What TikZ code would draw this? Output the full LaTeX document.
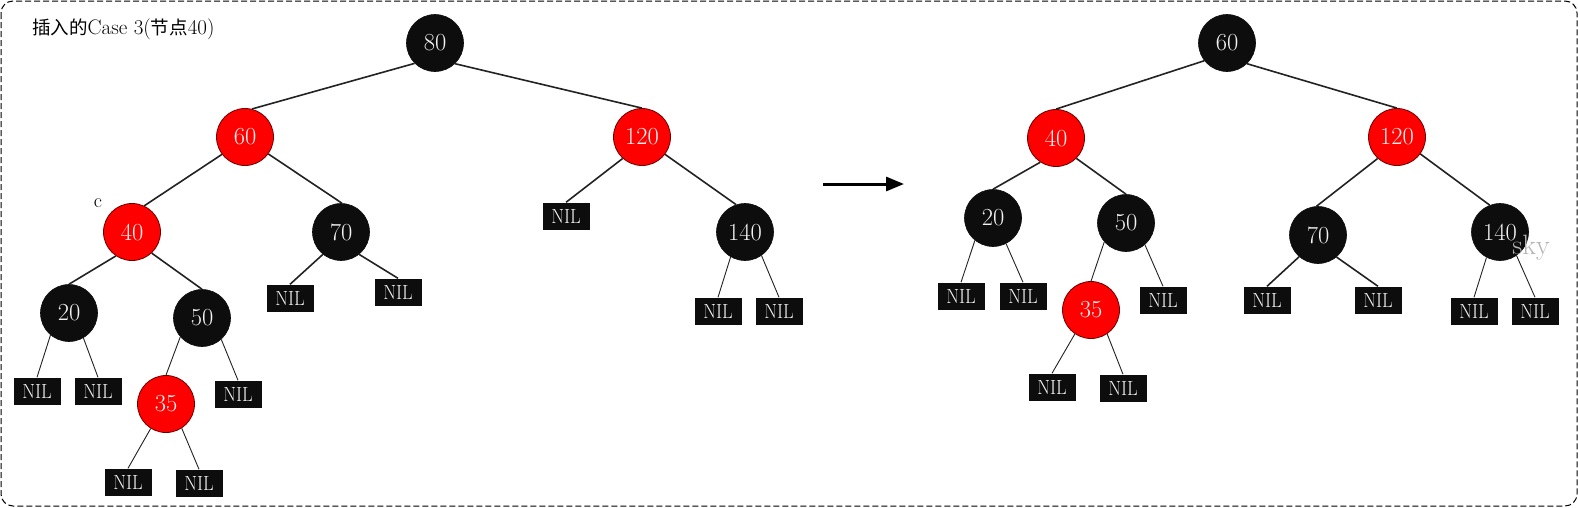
\documentclass[tikz,border=0pt]{standalone}
\usepackage{fontspec}
\usepackage{graphicx}
\newfontfamily\cjk{Noto Sans CJK SC}
\usetikzlibrary{arrows.meta}
\definecolor{nodeblack}{HTML}{0D0D0D}
\definecolor{nodered}{HTML}{FF0000}
\definecolor{rededge}{HTML}{6B0000}
\definecolor{edgecol}{HTML}{222222}
\definecolor{numtext}{HTML}{F2F2F2}
\begin{document}
\begin{tikzpicture}[x=1pt,y=-1pt,
  rbnode/.style={circle,minimum size=57pt,inner sep=0pt,text=numtext,
    font=\fontsize{24.5}{26}\selectfont},
  blk/.style={rbnode,fill=nodeblack,draw=nodeblack,line width=0.6pt},
  red/.style={rbnode,fill=nodered,draw=rededge,line width=0.8pt},
  nilbox/.style={rectangle,fill=nodeblack,minimum width=47pt,minimum height=27pt,
    inner sep=0pt,text=numtext,font=\fontsize{20.5}{22}\selectfont},
  thk/.style={draw=edgecol,line width=1.6pt},
  thn/.style={draw=edgecol,line width=0.9pt}]
\useasboundingbox (0,0) rectangle (1578,507);
\draw[line width=1pt,dash pattern=on 6pt off 3pt,rounded corners=12pt]
  (1,1) rectangle (1577,506);
\newcommand{\nil}{\scalebox{0.9}[1]{NIL}}
% label
\node[anchor=west,inner sep=0pt,font=\fontsize{21}{23}\selectfont] (title) at (32,29)
  {{\cjk\fontsize{18.5}{20}\selectfont 插入的}Case\ 3({\cjk\fontsize{18.5}{20}\selectfont 节点}40)};
\node[inner sep=0pt,font=\fontsize{20}{22}\selectfont] (clab) at (98,203) {c};
% left tree
\node[blk] (L80) at (435,43) {80};
\node[red] (L60) at (245,137) {60};
\node[red] (L120) at (642,137) {120};
\node[red] (L40) at (132,232) {40};
\node[blk] (L70) at (341,232) {70};
\node[blk] (L140) at (745,232) {140};
\node[blk] (L20) at (69,313) {20};
\node[blk] (L50) at (202,318) {50};
\node[red] (L35) at (166,404) {35};
\node[nilbox] (Ln120a) at (566,216) {\nil};
\node[nilbox] (Ln70a) at (290,298) {\nil};
\node[nilbox] (Ln70b) at (398,292) {\nil};
\node[nilbox] (Ln140a) at (718,311) {\nil};
\node[nilbox] (Ln140b) at (779,311) {\nil};
\node[nilbox] (Ln20a) at (37,391) {\nil};
\node[nilbox] (Ln20b) at (98,391) {\nil};
\node[nilbox] (Ln50b) at (238,394) {\nil};
\node[nilbox] (Ln35a) at (128,482) {\nil};
\node[nilbox] (Ln35b) at (199,483) {\nil};
\draw[thk] (L80.225) -- (L60.76);
\draw[thk] (L80.314) -- (L120.90);
\draw[thk] (L60.217) -- (L40.65);
\draw[thk] (L60.324) -- (L70.88);
\draw[thk] (L120.228) -- (Ln120a.north);
\draw[thk] (L120.323) -- (L140.108);
\draw[thn] (L140.240) -- (Ln140a.north);
\draw[thn] (L140.305) -- (Ln140b.north);
\draw[thk] (L40.236) -- (L20.90);
\draw[thk] (L40.313) -- (L50.90);
\draw[thn] (L20.230) -- (Ln20a.north);
\draw[thn] (L20.300) -- (Ln20b.north);
\draw[thn] (L50.221) -- (L35.90);
\draw[thn] (L50.312) -- (Ln50b.north);
\draw[thn] (L35.238) -- (Ln35a.north);
\draw[thn] (L35.303) -- (Ln35b.north);
\draw[thk] (L70.231) -- (Ln70a.north);
\draw[thk] (L70.309) -- (Ln70b.north);
% arrow
\coordinate (a1) at (823,184);
\coordinate (a2) at (904,184);
\draw[line width=3pt,-{Triangle[length=18pt,width=14pt]}] (a1) -- (a2);
% right tree
\node[blk] (R60) at (1227,43) {60};
\node[red] (R40) at (1056,138) {40};
\node[red] (R120) at (1397,137) {120};
\node[blk] (R20) at (993,218) {20};
\node[blk] (R50) at (1126,223) {50};
\node[red] (R35) at (1091,310) {35};
\node[blk] (R70) at (1318,235) {70};
\node[blk] (R140) at (1500,232) {140};
\node[nilbox] (Rn20a) at (961,296) {\nil};
\node[nilbox] (Rn20b) at (1023,296) {\nil};
\node[nilbox] (Rn50b) at (1163,300) {\nil};
\node[nilbox] (Rn35a) at (1052,387) {\nil};
\node[nilbox] (Rn35b) at (1123,388) {\nil};
\node[nilbox] (Rn70a) at (1267,300) {\nil};
\node[nilbox] (Rn70b) at (1378,300) {\nil};
\node[nilbox] (Rn140a) at (1474,311) {\nil};
\node[nilbox] (Rn140b) at (1535,311) {\nil};
\draw[thk] (R60.218) -- (R40.90);
\draw[thk] (R60.314) -- (R120.90);
\draw[thk] (R40.237) -- (R20.90);
\draw[thk] (R40.315) -- (R50.90);
\draw[thn] (R20.231) -- (Rn20a.north);
\draw[thn] (R20.297) -- (Rn20b.north);
\draw[thn] (R50.221) -- (R35.90);
\draw[thn] (R50.311) -- (Rn50b.north);
\draw[thn] (R35.236) -- (Rn35a.north);
\draw[thn] (R35.304) -- (Rn35b.north);
\draw[thk] (R120.228) -- (R70.93);
\draw[thk] (R120.324) -- (R140.111);
\draw[thk] (R70.229) -- (Rn70a.north);
\draw[thk] (R70.310) -- (Rn70b.north);
\draw[thn] (R140.242) -- (Rn140a.north);
\draw[thn] (R140.305) -- (Rn140b.north);
% watermark on top
\node[inner sep=0pt,text=black!30,font=\fontsize{28}{30}\selectfont] (sky) at (1531,248) {sky};
\end{tikzpicture}
\end{document}
